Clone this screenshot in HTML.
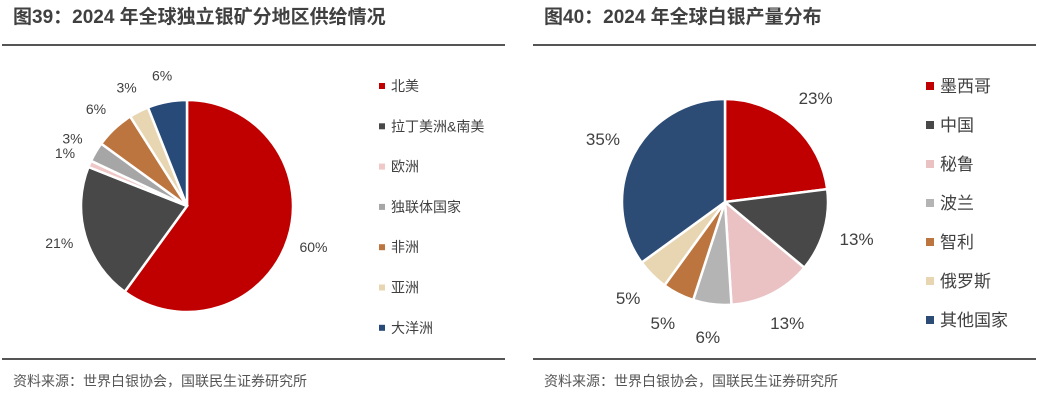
<!DOCTYPE html>
<html><head><meta charset="utf-8"><style>
body{margin:0;width:1040px;height:400px;background:#fff;font-family:"Liberation Sans","Noto Sans CJK SC",sans-serif;overflow:hidden}
svg{position:absolute;left:0;top:0}
</style></head><body>
<svg width="1040" height="400" id="s">
<text x="13" y="23" font-size="19" font-weight="bold" fill="#404040">图39：2024 年全球独立银矿分地区供给情况</text>
<line x1="2" y1="45" x2="505" y2="45" stroke="#555" stroke-width="2"/>
<line x1="2" y1="359" x2="505" y2="359" stroke="#555" stroke-width="2"/>
<text x="13" y="386" font-size="14" fill="#555">资料来源：世界白银协会，国联民生证券研究所</text>
<text x="544" y="23" font-size="19" font-weight="bold" fill="#404040">图40：2024 年全球白银产量分布</text>
<line x1="533" y1="45" x2="1036" y2="45" stroke="#555" stroke-width="2"/>
<line x1="533" y1="359" x2="1036" y2="359" stroke="#555" stroke-width="2"/>
<text x="544" y="386" font-size="14" fill="#555">资料来源：世界白银协会，国联民生证券研究所</text>
<g id="L"></g><g id="R"></g>
</svg>
<script>
const leftCats=["北美","拉丁美洲&南美","欧洲","独联体国家","非洲","亚洲","大洋洲"];
const leftVals=[60,21,1,3,6,3,6];
const rightCats=["墨西哥","中国","秘鲁","波兰","智利","俄罗斯","其他国家"];
const rightVals=[23,13,13,6,5,5,35];
const leftColors=["#C00000","#484848","#F0C8C8","#A6A6A6","#BD7540","#E8D6B2","#284A78"];
const rightColors=["#C00000","#484848","#EAC2C4","#B4B4B4","#BD7540","#E8D6B2","#2C4C76"];
const NS="http://www.w3.org/2000/svg";
function mk(t,a,p){const e=document.createElementNS(NS,t);for(const k in a)e.setAttribute(k,a[k]);p.appendChild(e);return e;}
function pie(g,cats,vals,cols,cx,cy,r,lr,legX,legY0,legStep,fs,ms,pref){
  const tot=vals.reduce((a,b)=>a+b,0);let a0=0;
  vals.forEach((v,i)=>{
    const a1=a0+v/tot*2*Math.PI;
    const p=(a)=>[cx+r*Math.sin(a),cy-r*Math.cos(a)];
    const [x0,y0]=p(a0),[x1,y1]=p(a1);
    const path=mk("path",{d:`M${cx},${cy}L${x0},${y0}A${r},${r} 0 ${a1-a0>Math.PI?1:0} 1 ${x1},${y1}Z`,fill:cols[i],stroke:"#fff","stroke-width":2.5},g);
    
    
    const m=(a0+a1)/2;
    const t=mk("text",{x:cx+lr*Math.sin(m),y:cy-lr*Math.cos(m)+5,"font-size":fs,fill:"#404040","text-anchor":"middle"},g);
    t.textContent=v+"%";
    
    
    const ly=legY0+i*legStep;
    const sq=mk("rect",{x:legX,y:ly-ms/2,width:ms,height:ms,fill:cols[i]},g);
    
    
    const lt=mk("text",{x:legX+ms+6,y:ly+fs*0.36,"font-size":fs,fill:"#404040"},g);
    lt.textContent=cats[i];
    
    
    a0=a1;
  });
}
pie(document.getElementById("L"),leftCats,leftVals,leftColors,187,206,106,133,379,86,40.3,14,6,"left");
pie(document.getElementById("R"),rightCats,rightVals,rightColors,725,202,103,137,926,86,39,17,8,"right");
</script>
</body></html>
